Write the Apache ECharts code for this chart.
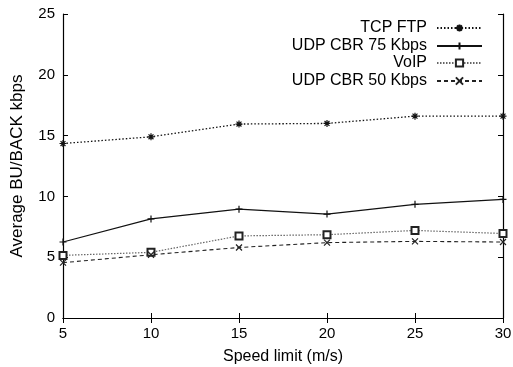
<!DOCTYPE html>
<html>
<head>
<meta charset="utf-8">
<script src="https://cdn.jsdelivr.net/npm/echarts@6/dist/echarts.min.js"></script>
<style>
  html, body { margin: 0; padding: 0; background: #fff; }
  #chart { width: 513px; height: 367px; }
</style>
</head>
<body>
<div id="chart"></div>
<script>
// Speed limits on the x axis (m/s)
const speeds = [5, 10, 15, 20, 25, 30];

// Average BU/BACK rate per traffic type (kbps)
const tcpFtp   = [14.35, 14.9, 15.95, 16.0, 16.6, 16.6];
const udpCbr75 = [6.25, 8.15, 8.95, 8.55, 9.35, 9.75];
const voip     = [5.15, 5.4, 6.75, 6.85, 7.2, 6.95];
const udpCbr50 = [4.55, 5.2, 5.8, 6.2, 6.3, 6.25];

const seriesNames = ['TCP FTP', 'UDP CBR 75 Kbps', 'VoIP', 'UDP CBR 50 Kbps'];
const yTicks = [0, 5, 10, 15, 20, 25];
const xTicks = [5, 10, 15, 20, 25, 30];

const FONT = 'Liberation Sans, Arial, Helvetica, sans-serif';

// gnuplot-like point glyphs
const SYM_ASTERISK = 'path://M5,0L5,10M0,5L10,5M1.5,1.5L8.5,8.5M8.5,1.5L1.5,8.5';
const SYM_PLUS = 'path://M5,0L5,10M0,5L10,5';
const SYM_CROSS = 'path://M0,0L10,10M10,0L0,10';

function pairs(vals) {
  return speeds.map((s, i) => [s, vals[i]]);
}

function lineSeries(name, vals, color, lineType, symbol, symbolSize, width) {
  return {
    name: name,
    type: 'line',
    data: pairs(vals),
    symbol: symbol,
    symbolSize: symbolSize,
    showSymbol: true,
    animation: false,
    lineStyle: { color: color, width: width || 1, type: lineType },
    itemStyle: { color: color, borderColor: color, borderWidth: 1.2 },
    emphasis: { disabled: true }
  };
}

const series = [
  lineSeries(seriesNames[0], tcpFtp, '#111', [1.5, 2], SYM_ASTERISK, 7, 1.3),
  lineSeries(seriesNames[1], udpCbr75, '#111', 'solid', SYM_PLUS, 7, 1.2),
  Object.assign(lineSeries(seriesNames[2], voip, '#666', [1.5, 1.5], 'emptyRect', 7, 1.2),
    { itemStyle: { color: '#222', borderColor: '#222', borderWidth: 1.2 } }),
  lineSeries(seriesNames[3], udpCbr50, '#222', [4, 3], SYM_CROSS, 6, 1.1)
];

// One legend block per entry, right-anchored so the samples line up
const legendTops = [15, 33, 50, 68];
const legends = seriesNames.map((n, i) => ({
  data: [n],
  right: 25,
  top: legendTops[i],
  align: 'right',
  itemWidth: 45,
  itemHeight: 9,
  selectedMode: false,
  textStyle: { fontFamily: FONT, fontSize: 16, color: '#000', padding: [0, 5, 0, 0] }
}));

const axisLineStyle = { show: true, lineStyle: { color: '#000', width: 1.2 } };
const tickStyle = { show: true, inside: true, length: 5, lineStyle: { color: '#000', width: 1 } };

const option = {
  backgroundColor: '#fff',
  animation: false,
  legend: legends,
  grid: { left: 63, right: 10, top: 14, bottom: 49, containLabel: false, outerBoundsMode: 'none' },
  xAxis: [
    {
      type: 'value', min: 5, max: 30, interval: 5,
      name: 'Speed limit (m/s)', nameLocation: 'middle', nameGap: 31,
      nameTextStyle: { fontFamily: FONT, fontSize: 16, color: '#000' },
      axisLine: axisLineStyle, axisTick: tickStyle, splitLine: { show: false },
      axisLabel: { fontFamily: FONT, fontSize: 15, color: '#000', margin: 8,
        formatter: v => xTicks.includes(v) ? String(v) : '' }
    },
    {
      type: 'value', min: 5, max: 30, interval: 5, position: 'top',
      axisLine: axisLineStyle, axisTick: tickStyle, splitLine: { show: false },
      axisLabel: { show: false }
    }
  ],
  yAxis: [
    {
      type: 'value', min: 0, max: 25, interval: 5,
      name: 'Average BU/BACK kbps', nameLocation: 'middle', nameGap: 37,
      nameTextStyle: { fontFamily: FONT, fontSize: 17, color: '#000' },
      axisLine: axisLineStyle, axisTick: tickStyle, splitLine: { show: false },
      axisLabel: { fontFamily: FONT, fontSize: 15, color: '#000', margin: 8,
        formatter: v => yTicks.includes(v) ? String(v) : '' }
    },
    {
      type: 'value', min: 0, max: 25, interval: 5, position: 'right',
      axisLine: axisLineStyle, axisTick: tickStyle, splitLine: { show: false },
      axisLabel: { show: false }
    }
  ],
  series: series
};

const chart = echarts.init(document.getElementById('chart'), null, { renderer: 'canvas' });
chart.setOption(option);
</script>
</body>
</html>
